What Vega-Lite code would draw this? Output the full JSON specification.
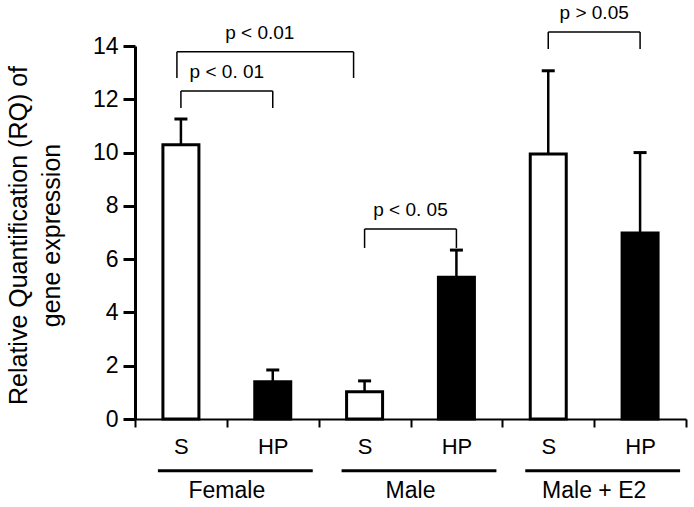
{
  "$schema": "https://vega.github.io/schema/vega-lite/v6.json",
  "width": 551,
  "height": 373,
  "autosize": "none",
  "padding": {"left": 135, "top": 46, "right": 8, "bottom": 88},
  "background": "white",
  "config": {
    "view": {"stroke": null},
    "font": "Liberation Sans"
  },
  "datasets": {
    "bars": [
      {"bar": "Female S", "group": "Female", "treatment": "S", "rq": 10.29, "upper": 11.26},
      {"bar": "Female HP", "group": "Female", "treatment": "HP", "rq": 1.4, "upper": 1.84},
      {"bar": "Male S", "group": "Male", "treatment": "S", "rq": 1.02, "upper": 1.43},
      {"bar": "Male HP", "group": "Male", "treatment": "HP", "rq": 5.32, "upper": 6.34},
      {"bar": "Male + E2 S", "group": "Male + E2", "treatment": "S", "rq": 9.95, "upper": 13.07},
      {"bar": "Male + E2 HP", "group": "Male + E2", "treatment": "HP", "rq": 6.98, "upper": 10.0}
    ],
    "brackets": [
      {"label": "p < 0. 01", "from": "Female S", "to": "Female HP", "level": 12.31, "foot": 11.67},
      {"label": "p < 0. 05", "from": "Male S", "to": "Male HP", "level": 7.13, "foot": 6.42},
      {"label": "p > 0.05", "from": "Male + E2 S", "to": "Male + E2 HP", "level": 14.53, "foot": 13.89}
    ],
    "bigBracket": [
      {"label": "p < 0.01", "from": "Female S", "to": "Male S", "level": 13.78, "foot": 12.8}
    ],
    "groups": [
      {"group": "Female", "first": "Female S", "last": "Female HP"},
      {"group": "Male", "first": "Male S", "last": "Male HP"},
      {"group": "Male + E2", "first": "Male + E2 S", "last": "Male + E2 HP"}
    ]
  },
  "layer": [
    {
      "data": {"name": "bars"},
      "mark": {"type": "bar", "stroke": "black", "strokeWidth": 3, "width": {"band": 0.392}, "clip": false},
      "encoding": {
        "x": {
          "field": "bar", "type": "nominal",
          "scale": {"type": "band", "domain": ["Female S", "Female HP", "Male S", "Male HP", "Male + E2 S", "Male + E2 HP"], "paddingInner": 0, "paddingOuter": 0},
          "axis": {"title": "", "domainColor": "black", "domainWidth": 2, "tickColor": "black", "tickWidth": 2, "tickSize": 8, "tickBand": "extent", "labelExpr": "peek(split(datum.label, ' '))", "labelFont": "Liberation Sans", "labelFontSize": 22, "labelColor": "black", "labelPadding": 9, "labelAngle": 0, "grid": false}
        },
        "y": {
          "field": "rq", "type": "quantitative",
          "scale": {"domain": [0, 14], "nice": false, "zero": true},
          "axis": {"title": ["Relative Quantification (RQ) of", "gene expression"], "values": [0, 2, 4, 6, 8, 10, 12, 14], "domainColor": "black", "domainWidth": 3, "tickColor": "black", "tickWidth": 3, "tickSize": 12, "labelFont": "Liberation Sans", "labelFontSize": 23, "labelColor": "black", "labelPadding": 5, "grid": false, "titleFont": "Liberation Sans", "titleFontSize": 25, "titleFontWeight": "normal", "titleColor": "black", "titleLineHeight": 33, "titlePadding": 28, "titleY": 189}
        },
        "color": {"field": "treatment", "type": "nominal", "scale": {"domain": ["S", "HP"], "range": ["#ffffff", "#000000"]}, "legend": null}
      }
    },
    {
      "data": {"name": "bars"},
      "mark": {"type": "rule", "color": "black", "strokeWidth": 2.5, "clip": false},
      "encoding": {
        "x": {"field": "bar", "type": "nominal"},
        "y": {"field": "rq", "type": "quantitative"},
        "y2": {"field": "upper"}
      }
    },
    {
      "data": {"name": "bars"},
      "mark": {"type": "tick", "color": "black", "opacity": 1, "size": 13, "thickness": 3, "clip": false},
      "encoding": {
        "x": {"field": "bar", "type": "nominal"},
        "y": {"field": "upper", "type": "quantitative"}
      }
    },
    {
      "data": {"name": "brackets"},
      "mark": {"type": "rule", "color": "black", "strokeWidth": 1.5, "clip": false},
      "encoding": {
        "x": {"field": "from", "type": "nominal"},
        "x2": {"field": "to"},
        "y": {"field": "level", "type": "quantitative"}
      }
    },
    {
      "data": {"name": "brackets"},
      "mark": {"type": "rule", "color": "black", "strokeWidth": 1.5, "clip": false},
      "encoding": {
        "x": {"field": "from", "type": "nominal"},
        "y": {"field": "level", "type": "quantitative"},
        "y2": {"field": "foot"}
      }
    },
    {
      "data": {"name": "brackets"},
      "mark": {"type": "rule", "color": "black", "strokeWidth": 1.5, "clip": false},
      "encoding": {
        "x": {"field": "to", "type": "nominal"},
        "y": {"field": "level", "type": "quantitative"},
        "y2": {"field": "foot"}
      }
    },
    {
      "data": {"name": "brackets"},
      "mark": {"type": "text", "fontSize": 19, "color": "black", "baseline": "alphabetic", "dy": -13, "clip": false},
      "encoding": {
        "x": {"field": "from", "type": "nominal", "bandPosition": 1},
        "y": {"field": "level", "type": "quantitative"},
        "text": {"field": "label"}
      }
    },
    {
      "data": {"name": "bigBracket"},
      "mark": {"type": "rule", "color": "black", "strokeWidth": 1.5, "xOffset": -4, "x2Offset": -11, "clip": false},
      "encoding": {
        "x": {"field": "from", "type": "nominal"},
        "x2": {"field": "to"},
        "y": {"field": "level", "type": "quantitative"}
      }
    },
    {
      "data": {"name": "bigBracket"},
      "mark": {"type": "rule", "color": "black", "strokeWidth": 1.5, "xOffset": -4, "clip": false},
      "encoding": {
        "x": {"field": "from", "type": "nominal"},
        "y": {"field": "level", "type": "quantitative"},
        "y2": {"field": "foot"}
      }
    },
    {
      "data": {"name": "bigBracket"},
      "mark": {"type": "rule", "color": "black", "strokeWidth": 1.5, "xOffset": -11, "clip": false},
      "encoding": {
        "x": {"field": "to", "type": "nominal"},
        "y": {"field": "level", "type": "quantitative"},
        "y2": {"field": "foot"}
      }
    },
    {
      "data": {"name": "bigBracket"},
      "mark": {"type": "text", "fontSize": 19, "color": "black", "baseline": "alphabetic", "dy": -13, "dx": 33, "clip": false},
      "encoding": {
        "x": {"field": "from", "type": "nominal", "bandPosition": 1},
        "y": {"field": "level", "type": "quantitative"},
        "text": {"field": "label"}
      }
    },
    {
      "data": {"name": "groups"},
      "mark": {"type": "rule", "color": "black", "strokeWidth": 3, "xOffset": -23, "x2Offset": 40, "clip": false},
      "encoding": {
        "x": {"field": "first", "type": "nominal"},
        "x2": {"field": "last"},
        "y": {"datum": -1.94, "type": "quantitative"}
      }
    },
    {
      "data": {"name": "groups"},
      "mark": {"type": "text", "fontSize": 23, "color": "black", "baseline": "middle", "clip": false},
      "encoding": {
        "x": {"field": "first", "type": "nominal", "bandPosition": 1},
        "y": {"datum": -2.7, "type": "quantitative"},
        "text": {"field": "group"}
      }
    }
  ]
}
